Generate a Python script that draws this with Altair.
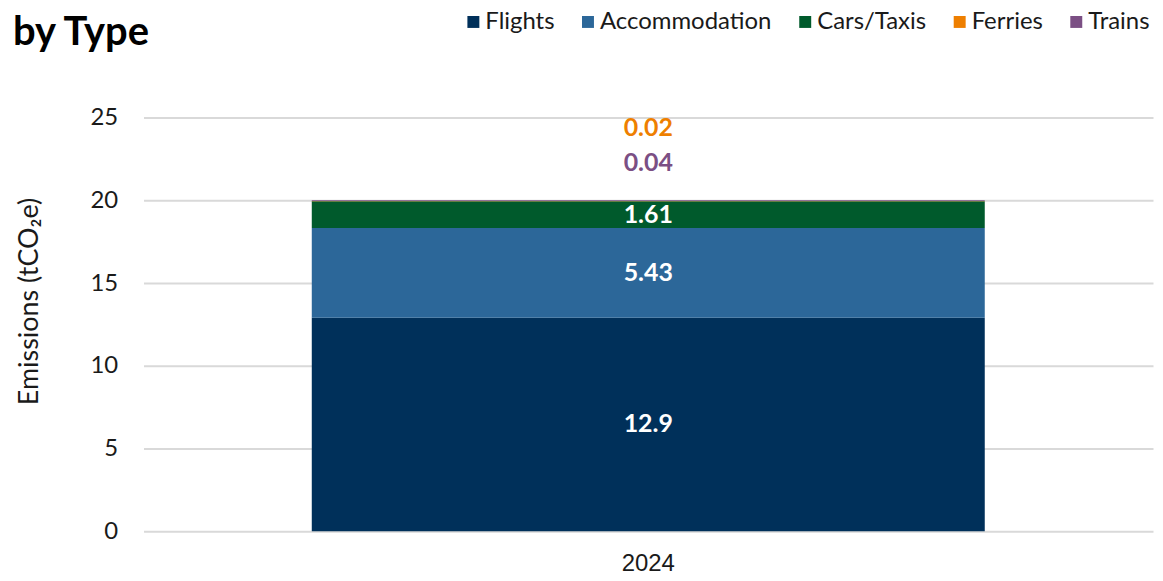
import altair as alt
import pandas as pd

# ---- data ----
years = ["2024"]
categories = ["Flights", "Accommodation", "Cars/Taxis", "Ferries", "Trains"]
values = [12.9, 5.43, 1.61, 0.02, 0.04]
colors = ["#00305A", "#2C6799", "#005A2C", "#EE7F00", "#7B4F84"]
y_ticks = [0, 5, 10, 15, 20, 25]

FONT = "Lato"

df = pd.DataFrame({
    "Year": [years[0]] * len(categories),
    "Type": categories,
    "Value": values,
    "Order": list(range(len(categories))),
})

color_scale = alt.Scale(domain=categories, range=colors)

x_enc = alt.X(
    "Year:N",
    title=None,
    scale=alt.Scale(paddingInner=0, paddingOuter=0.25),
    axis=alt.Axis(labelAngle=0, labelFontSize=24, labelFont="Liberation Sans",
                  labelColor="#1a1a1a", labelPadding=20, ticks=False, domain=False, grid=False),
)

base = alt.Chart(df)

bars = base.mark_bar().encode(
    x=x_enc,
    y=alt.Y(
        "Value:Q",
        stack="zero",
        scale=alt.Scale(domain=[0, 25], nice=False),
        title="Emissions (tCO₂e)",
        axis=alt.Axis(values=y_ticks, labelFontSize=24, labelFont=FONT, labelColor="#1a1a1a",
                      labelPadding=26, ticks=False, domain=False, grid=True,
                      gridColor="#d9d9d9", gridWidth=2,
                      titleFontSize=27, titleFont=FONT, titleFontWeight="normal",
                      titleColor="#1a1a1a", titleX=-114, titleY=184, titleBaseline="middle",
                      titleAngle=270),
    ),
    color=alt.Color(
        "Type:N",
        scale=color_scale,
        sort=categories,
        legend=alt.Legend(
            title=None, orient="none", direction="horizontal", columns=5,
            legendX=319, legendY=-108,
            symbolType="square", symbolSize=144, symbolStrokeWidth=0,
            labelFontSize=24, labelFont=FONT, labelColor="#1a1a1a", labelLimit=0,
            labelOffset=0, columnPadding=21,
        ),
    ),
    order=alt.Order("Order:Q"),
)

stacked = base.transform_window(
    v1="sum(Value)", sort=[alt.SortField("Order")], frame=[None, 0]
).transform_calculate(
    v0="datum.v1 - datum.Value",
    mid="(datum.v0 + datum.v1) / 2",
)

inside = stacked.transform_filter("datum.Value >= 1").mark_text(
    color="white", fontWeight="bold", fontSize=25, font=FONT, baseline="middle"
).encode(
    x=x_enc,
    y=alt.Y("mid:Q"),
    text=alt.Text("Value:Q", format=".3~g"),
)

trains_lbl = stacked.transform_filter("datum.Type == 'Trains'").mark_text(
    color=colors[4], fontWeight="bold", fontSize=25, font=FONT, baseline="middle", dy=-37
).encode(
    x=x_enc,
    y=alt.Y("v1:Q"),
    text=alt.Text("Value:Q", format=".3~g"),
)

ferries_lbl = stacked.transform_filter("datum.Type == 'Ferries'").mark_text(
    color=colors[3], fontWeight="bold", fontSize=25, font=FONT, baseline="middle", dy=-73
).encode(
    x=x_enc,
    y=alt.Y("v1:Q"),
    text=alt.Text("Value:Q", format=".3~g"),
)

chart = alt.layer(bars, inside, trains_lbl, ferries_lbl).properties(
    width=1013,
    height=415,
    title=alt.TitleParams("by Type", anchor="start", frame="group", dx=-131, dy=75,
                          offset=0, baseline="alphabetic",
                          fontSize=40, font=FONT, fontWeight="bold", color="#000000"),
    autosize=alt.AutoSizeParams(type="none"),
    padding={"left": 136, "top": 109, "right": 2, "bottom": 48},
).configure_view(stroke=None)

chart.save("out.html", embed_options={"renderer": "svg", "actions": False})
